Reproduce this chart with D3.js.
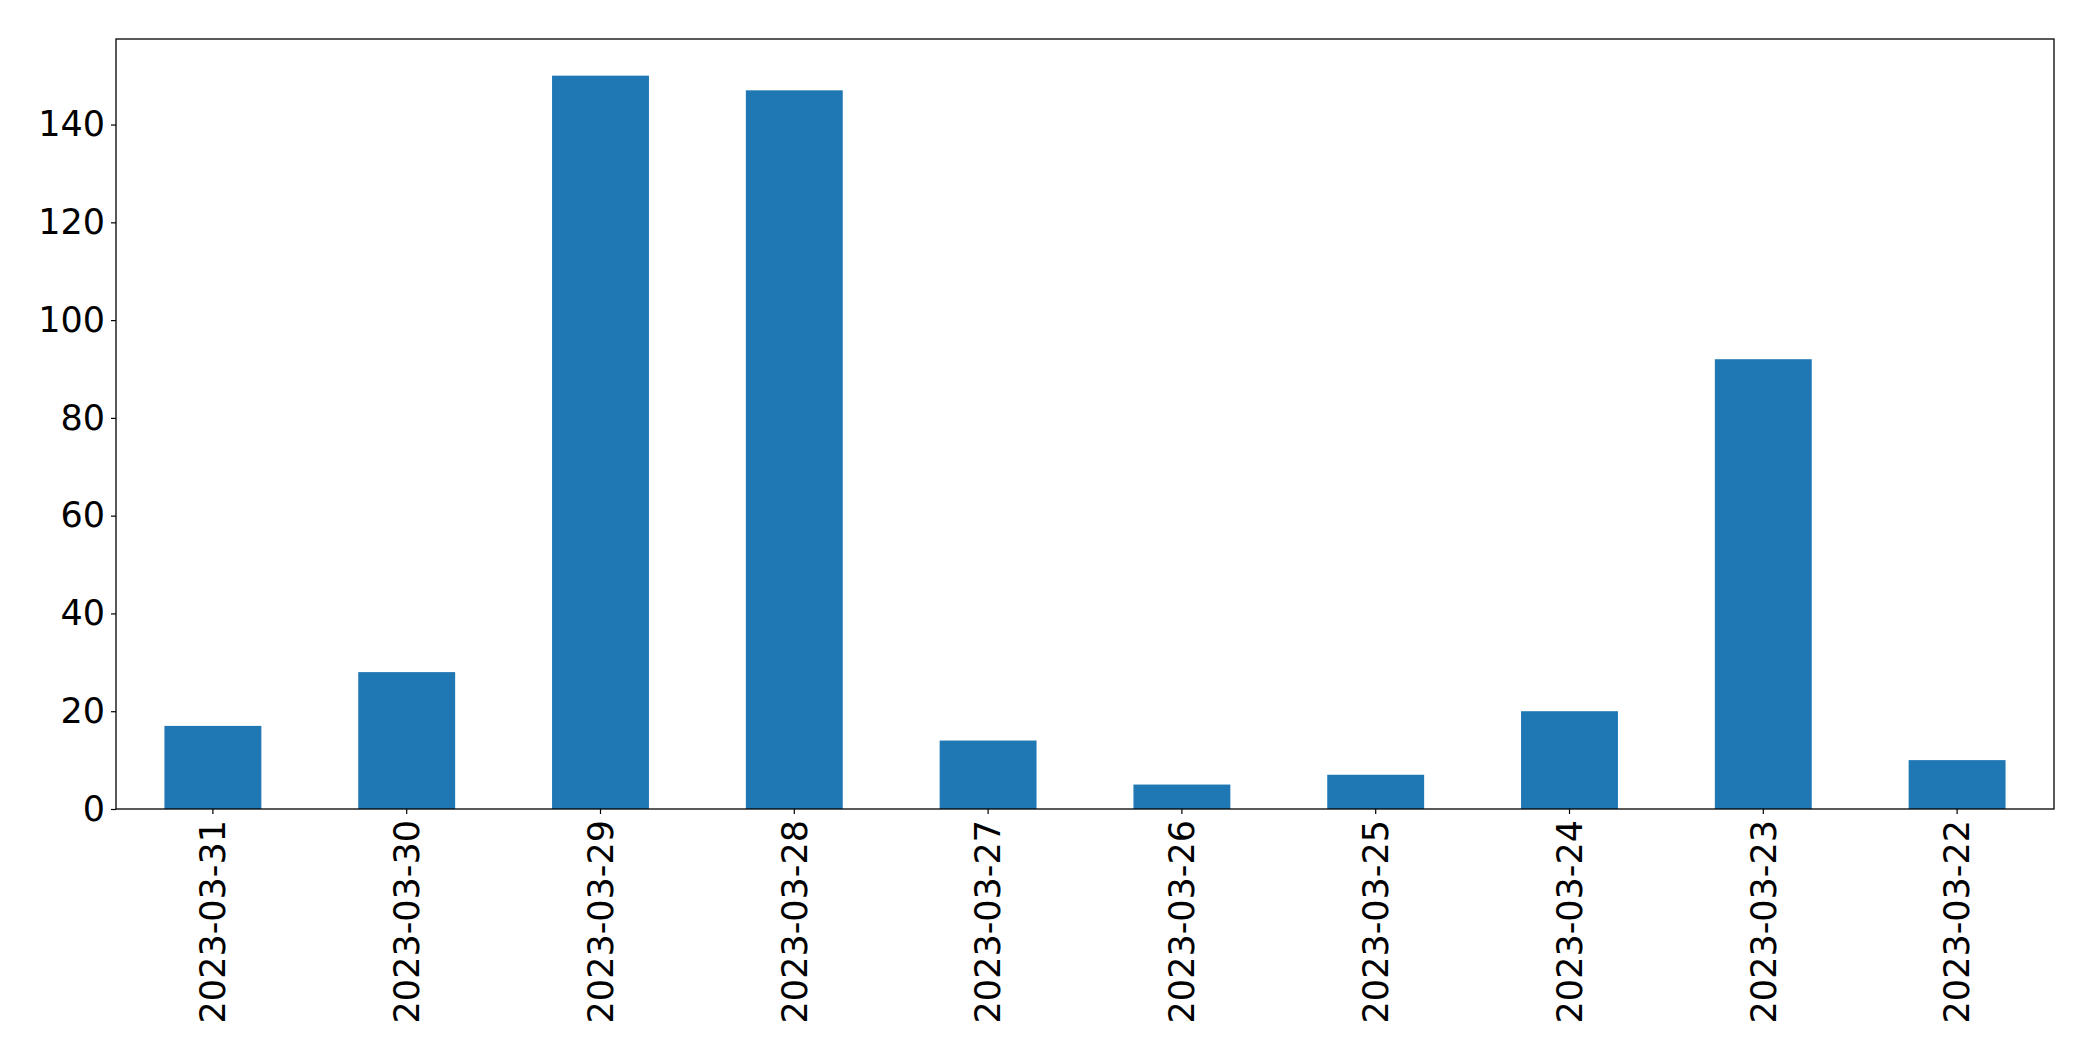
<!DOCTYPE html>
<html><head><meta charset="utf-8">
<script src="https://cdn.jsdelivr.net/npm/d3@7"></script>
<style>html,body{margin:0;padding:0;background:#fff;}svg{display:block;}</style>
</head><body>
<script>
const categories = ["2023-03-31","2023-03-30","2023-03-29","2023-03-28","2023-03-27","2023-03-26","2023-03-25","2023-03-24","2023-03-23","2023-03-22"];
const values = [17, 28, 150, 147, 14, 5, 7, 20, 92, 10];
const yTicks = [0, 20, 40, 60, 80, 100, 120, 140];

const W = 2093, H = 1061;
const m = {left:116, right:2054, top:39, bottom:809};
const svg = d3.select("body").append("svg").attr("width", W).attr("height", H);

const x = d3.scaleBand().domain(categories).range([m.left, m.right]).paddingInner(0.5).paddingOuter(0.25);
const y = d3.scaleLinear().domain([0, d3.max(values) * 1.05]).range([m.bottom, m.top]);

svg.append("g").selectAll("rect").data(values).join("rect")
  .attr("x", (d, i) => x(categories[i]))
  .attr("width", x.bandwidth())
  .attr("y", d => y(d))
  .attr("height", d => y(0) - y(d))
  .attr("fill", "#1f77b4");

const font = "DejaVu Sans";
const yAxis = svg.append("g").attr("transform", `translate(${m.left},0)`)
  .call(d3.axisLeft(y).tickValues(yTicks).tickSize(5).tickPadding(6).tickFormat(d3.format("d")));
yAxis.select(".domain").remove();
yAxis.selectAll("text").attr("font-family", font).attr("font-size", 35).attr("fill", "#000");
yAxis.selectAll("line").attr("stroke", "#000").attr("stroke-width", 1.2);

const xAxis = svg.append("g").attr("transform", `translate(0,${m.bottom})`)
  .call(d3.axisBottom(x).tickSize(5).tickPadding(8));
xAxis.select(".domain").remove();
xAxis.selectAll("line").attr("stroke", "#000").attr("stroke-width", 1.2);
xAxis.selectAll("text")
  .attr("font-family", font).attr("font-size", 35).attr("fill", "#000")
  .attr("transform", "rotate(-90)")
  .attr("text-anchor", "end")
  .attr("x", -11).attr("y", 0).attr("dy", "0.35em");

svg.append("rect").attr("x", m.left).attr("y", m.top)
  .attr("width", m.right - m.left).attr("height", m.bottom - m.top)
  .attr("fill", "none").attr("stroke", "#000").attr("stroke-width", 1.3);
</script>
</body></html>
